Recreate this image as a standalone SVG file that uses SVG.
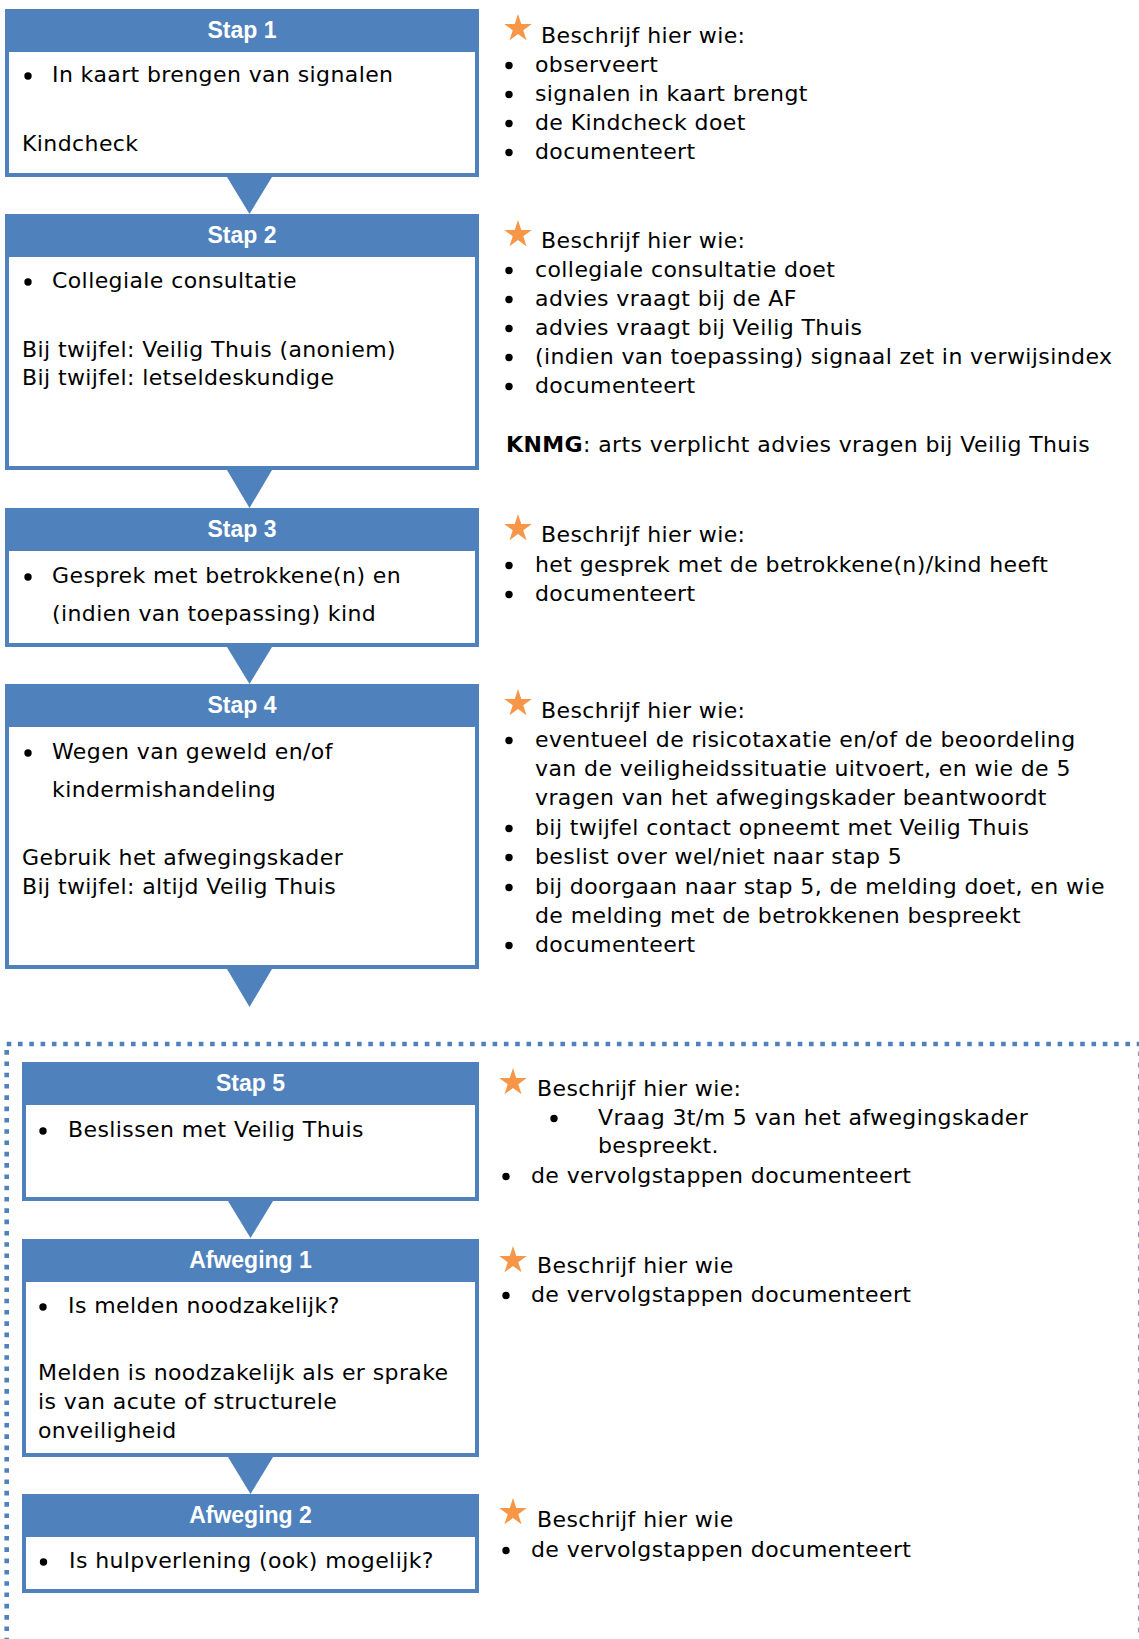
<svg xmlns="http://www.w3.org/2000/svg" width="1139" height="1639" viewBox="0 0 1139 1639">
<style>
.frame{fill:#4F81BD}
.inner{fill:#FFFFFF}
.hdr{font-family:"Liberation Sans",Arial,sans-serif;font-weight:bold;font-size:23px;fill:#FFFFFF;text-anchor:middle}
.t{font-family:"DejaVu Sans",sans-serif;font-size:22px;fill:#000000;letter-spacing:0.4px}
.bu{fill:#000000}
.tri{fill:#4F81BD}
.star{fill:#F79646}
.dots{fill:none;stroke:#4F81BD;stroke-width:4.6;stroke-dasharray:4.6 6.7}
</style>
<defs>
<path id="star" d="M0,-14.5 L3.256,-4.482 L13.79,-4.481 L5.269,1.712 L8.523,11.731 L0,5.54 L-8.523,11.731 L-5.269,1.712 L-13.79,-4.481 L-3.256,-4.482 Z"/>
</defs>
<rect width="1139" height="1639" fill="#FFFFFF"/>

<g id="dotted-frame">
<rect class="dots" x="6.7" y="1044" width="1133.8" height="640"/>
</g>

<g id="connectors">
<polygon class="tri" points="227,177 272,177 249.5,214"/>
<polygon class="tri" points="227,470 272,470 249.5,508"/>
<polygon class="tri" points="227,647 272,647 249.5,684"/>
<polygon class="tri" points="227,969 272,969 249.5,1007"/>
<polygon class="tri" points="228,1201 273,1201 250.5,1238"/>
<polygon class="tri" points="228,1457 273,1457 250.5,1494"/>
</g>

<g id="stap1">
<rect class="frame" x="5" y="9" width="474" height="168"/>
<rect class="inner" x="9" y="52" width="466" height="121"/>
<text class="hdr" x="242" y="38">Stap 1</text>
<circle class="bu" cx="28" cy="76" r="3.7"/>
<text class="t" x="52" y="82">In kaart brengen van signalen</text>
<text class="t" x="22" y="151">Kindcheck</text>
</g>

<g id="stap2">
<rect class="frame" x="5" y="214" width="474" height="256"/>
<rect class="inner" x="9" y="257" width="466" height="209"/>
<text class="hdr" x="242" y="243">Stap 2</text>
<circle class="bu" cx="28" cy="282" r="3.7"/>
<text class="t" x="52" y="288">Collegiale consultatie</text>
<text class="t" x="22" y="357">Bij twijfel: Veilig Thuis (anoniem)</text>
<text class="t" x="22" y="385">Bij twijfel: letseldeskundige</text>
</g>

<g id="stap3">
<rect class="frame" x="5" y="508" width="474" height="139"/>
<rect class="inner" x="9" y="551" width="466" height="92"/>
<text class="hdr" x="242" y="537">Stap 3</text>
<circle class="bu" cx="28" cy="577" r="3.7"/>
<text class="t" x="52" y="583">Gesprek met betrokkene(n) en</text>
<text class="t" x="52" y="621">(indien van toepassing) kind</text>
</g>

<g id="stap4">
<rect class="frame" x="5" y="684" width="474" height="285"/>
<rect class="inner" x="9" y="727" width="466" height="238"/>
<text class="hdr" x="242" y="713">Stap 4</text>
<circle class="bu" cx="28" cy="753" r="3.7"/>
<text class="t" x="52" y="759">Wegen van geweld en/of</text>
<text class="t" x="52" y="797">kindermishandeling</text>
<text class="t" x="22" y="865">Gebruik het afwegingskader</text>
<text class="t" x="22" y="894">Bij twijfel: altijd Veilig Thuis</text>
</g>

<g id="stap5">
<rect class="frame" x="22" y="1062" width="457" height="139"/>
<rect class="inner" x="26" y="1105" width="449" height="92"/>
<text class="hdr" x="250.5" y="1091">Stap 5</text>
<circle class="bu" cx="43" cy="1131" r="3.7"/>
<text class="t" x="68" y="1137">Beslissen met Veilig Thuis</text>
</g>

<g id="afweging1">
<rect class="frame" x="22" y="1239" width="457" height="218"/>
<rect class="inner" x="26" y="1282" width="449" height="171"/>
<text class="hdr" x="250.5" y="1268">Afweging 1</text>
<circle class="bu" cx="43" cy="1307" r="3.7"/>
<text class="t" x="68" y="1313">Is melden noodzakelijk?</text>
<text class="t" x="38" y="1380">Melden is noodzakelijk als er sprake</text>
<text class="t" x="38" y="1409">is van acute of structurele</text>
<text class="t" x="38" y="1438">onveiligheid</text>
</g>

<g id="afweging2">
<rect class="frame" x="22" y="1494" width="457" height="99"/>
<rect class="inner" x="26" y="1537" width="449" height="52"/>
<text class="hdr" x="250.5" y="1523">Afweging 2</text>
<circle class="bu" cx="43.5" cy="1562" r="3.7"/>
<text class="t" x="69" y="1568">Is hulpverlening (ook) mogelijk?</text>
</g>

<g id="note-stap1">
<use href="#star" class="star" x="518" y="28.5"/>
<text class="t" x="541" y="43">Beschrijf hier wie:</text>
<circle class="bu" cx="509" cy="65.5" r="3.7"/><text class="t" x="535" y="72">observeert</text>
<circle class="bu" cx="509" cy="94.5" r="3.7"/><text class="t" x="535" y="101">signalen in kaart brengt</text>
<circle class="bu" cx="509" cy="123.5" r="3.7"/><text class="t" x="535" y="130">de Kindcheck doet</text>
<circle class="bu" cx="509" cy="152.5" r="3.7"/><text class="t" x="535" y="159">documenteert</text>
</g>

<g id="note-stap2">
<use href="#star" class="star" x="518" y="234.5"/>
<text class="t" x="541" y="248">Beschrijf hier wie:</text>
<circle class="bu" cx="509" cy="270.5" r="3.7"/><text class="t" x="535" y="277">collegiale consultatie doet</text>
<circle class="bu" cx="509" cy="299.5" r="3.7"/><text class="t" x="535" y="306">advies vraagt bij de AF</text>
<circle class="bu" cx="509" cy="328.5" r="3.7"/><text class="t" x="535" y="335">advies vraagt bij Veilig Thuis</text>
<circle class="bu" cx="509" cy="357.5" r="3.7"/><text class="t" x="535" y="364">(indien van toepassing) signaal zet in verwijsindex</text>
<circle class="bu" cx="509" cy="386.5" r="3.7"/><text class="t" x="535" y="393">documenteert</text>
<text class="t" x="506" y="452"><tspan font-weight="bold">KNMG</tspan>: arts verplicht advies vragen bij Veilig Thuis</text>
</g>

<g id="note-stap3">
<use href="#star" class="star" x="518" y="528.5"/>
<text class="t" x="541" y="542">Beschrijf hier wie:</text>
<circle class="bu" cx="509" cy="565.5" r="3.7"/><text class="t" x="535" y="572">het gesprek met de betrokkene(n)/kind heeft</text>
<circle class="bu" cx="509" cy="594.5" r="3.7"/><text class="t" x="535" y="601">documenteert</text>
</g>

<g id="note-stap4">
<use href="#star" class="star" x="518" y="703.5"/>
<text class="t" x="541" y="718">Beschrijf hier wie:</text>
<circle class="bu" cx="509" cy="740.5" r="3.7"/><text class="t" x="535" y="747">eventueel de risicotaxatie en/of de beoordeling</text>
<text class="t" x="535" y="776">van de veiligheidssituatie uitvoert, en wie de 5</text>
<text class="t" x="535" y="805">vragen van het afwegingskader beantwoordt</text>
<circle class="bu" cx="509" cy="828.5" r="3.7"/><text class="t" x="535" y="835">bij twijfel contact opneemt met Veilig Thuis</text>
<circle class="bu" cx="509" cy="857.5" r="3.7"/><text class="t" x="535" y="864">beslist over wel/niet naar stap 5</text>
<circle class="bu" cx="509" cy="887.5" r="3.7"/><text class="t" x="535" y="894">bij doorgaan naar stap 5, de melding doet, en wie</text>
<text class="t" x="535" y="923">de melding met de betrokkenen bespreekt</text>
<circle class="bu" cx="509" cy="945.5" r="3.7"/><text class="t" x="535" y="952">documenteert</text>
</g>

<g id="note-stap5">
<use href="#star" class="star" x="513" y="1082.5"/>
<text class="t" x="537" y="1096">Beschrijf hier wie:</text>
<circle class="bu" cx="554" cy="1118.5" r="3.7"/><text class="t" x="598" y="1125">Vraag 3t/m 5 van het afwegingskader</text>
<text class="t" x="598" y="1153">bespreekt.</text>
<circle class="bu" cx="506" cy="1176.5" r="3.7"/><text class="t" x="531" y="1183">de vervolgstappen documenteert</text>
</g>

<g id="note-afweging1">
<use href="#star" class="star" x="513" y="1260.5"/>
<text class="t" x="537" y="1273">Beschrijf hier wie</text>
<circle class="bu" cx="506" cy="1295.5" r="3.7"/><text class="t" x="531" y="1302">de vervolgstappen documenteert</text>
</g>

<g id="note-afweging2">
<use href="#star" class="star" x="513" y="1512.5"/>
<text class="t" x="537" y="1527">Beschrijf hier wie</text>
<circle class="bu" cx="506" cy="1550.5" r="3.7"/><text class="t" x="531" y="1557">de vervolgstappen documenteert</text>
</g>
</svg>
